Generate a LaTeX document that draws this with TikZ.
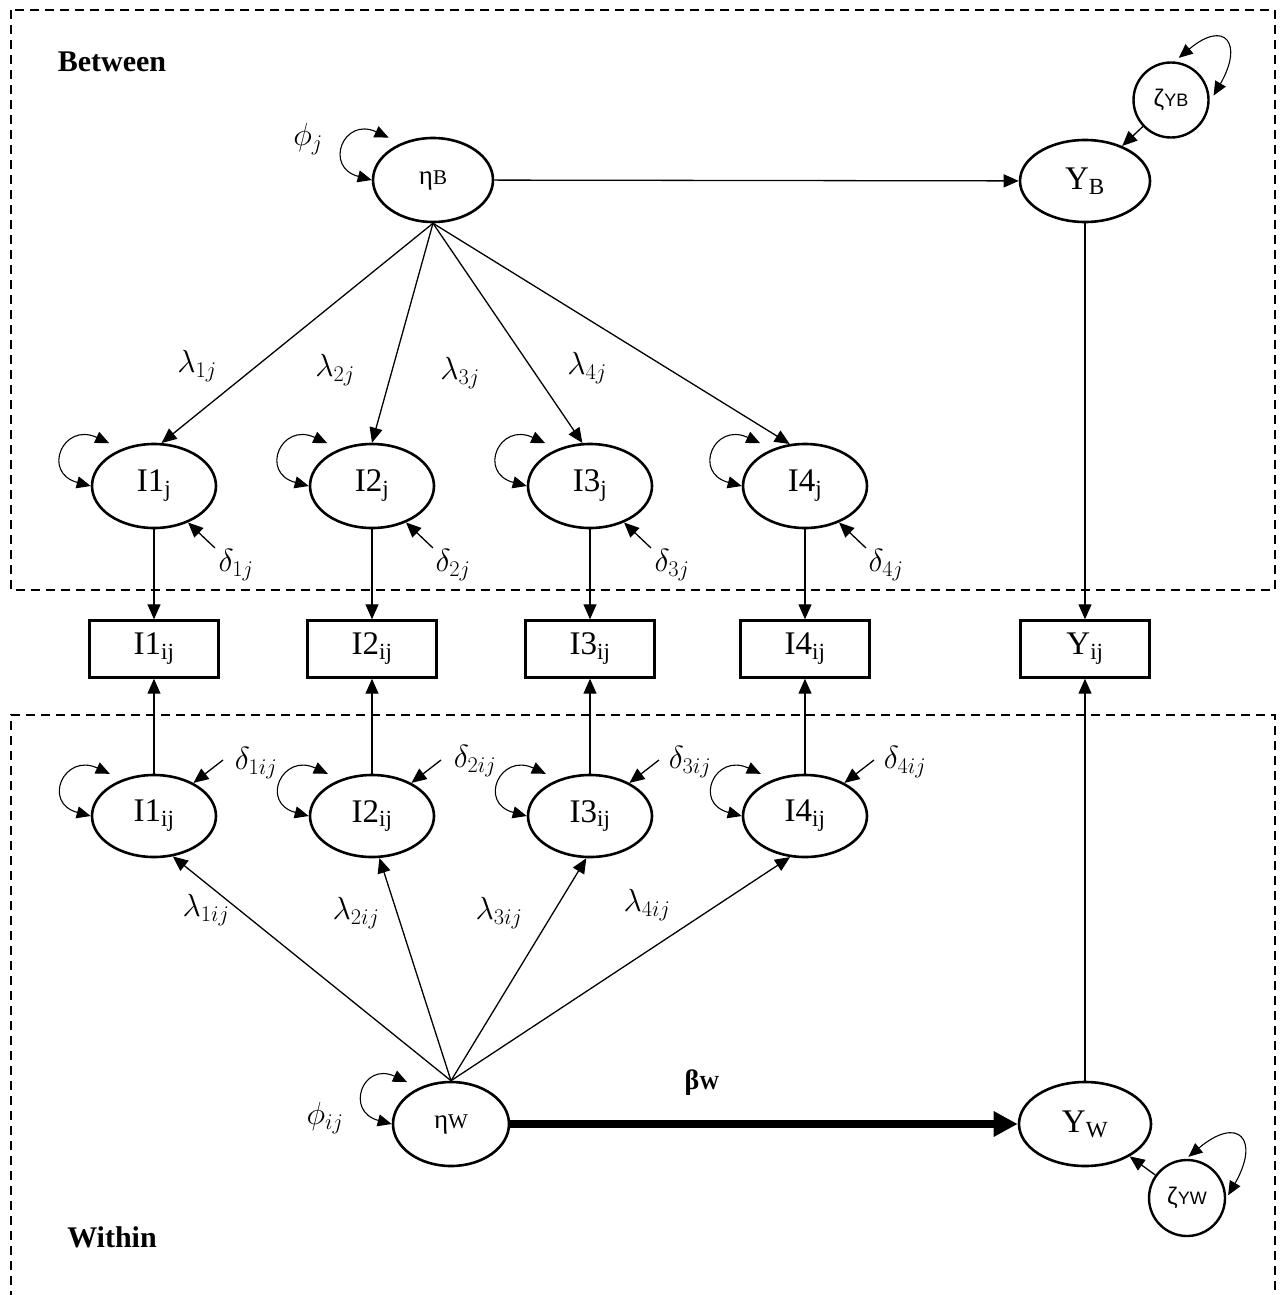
\RequirePackage{fix-cm}
\documentclass[tikz,border=0pt]{standalone}
\usepackage{fontspec}
\setmainfont{Liberation Serif}
\newfontfamily\zsans{Liberation Sans}
\usetikzlibrary{shapes.geometric,arrows.meta}
\newcommand\selfloop[2][]{\draw[both,#1] ([shift={(-9,7)}]#2.135) to[out=155,in=165,looseness=2.8] (#2.west);}
\begin{document}
\begin{tikzpicture}[x=1pt,y=1pt,
 lat/.style={ellipse,draw,line width=2.6pt,inner sep=0pt,minimum width=124pt,minimum height=84pt,font=\fontsize{33}{35}\selectfont},
 obs/.style={rectangle,draw,line width=2.4pt,inner sep=0pt,minimum width=129pt,minimum height=57pt,font=\fontsize{33}{35}\selectfont},
 res/.style={circle,draw,line width=2.4pt,inner sep=0pt,minimum size=75pt},
 conn/.style={line width=1.3pt,-{Triangle[length=15pt,width=13pt]}},
 both/.style={line width=1.1pt,{Triangle[length=14pt,width=12pt]}-{Triangle[length=14pt,width=12pt]}},
 strong/.style={line width=8pt,-{Triangle[length=24pt,width=24pt]}},
 region/.style={line width=2.2pt,dash pattern=on 9pt off 6pt},
 mlab/.style={font=\fontsize{32}{34}\selectfont,inner sep=1pt},
 title/.style={font=\fontsize{30}{32}\selectfont\bfseries}
]
\useasboundingbox (0,0) rectangle (1280,-1295);

% regions
\draw[region] (11,-10) rectangle (1275,-590);
\draw[region] (11,-1300) -- (11,-715) -- (1275,-715) -- (1275,-1300);
\node[title] (tB) at (112,-62) {Between};
\node[title] (tW) at (112,-1237) {Within};

% between level
\node[lat,minimum width=120pt] (etaB) at (433,-180) {\fontsize{27}{29}\selectfont η{\fontsize{21}{23}\selectfont B}};
\node[lat,minimum width=130pt,minimum height=82pt] (YB) at (1085,-181) {Y\textsubscript{B}};
\node[res] (zYB) at (1171,-100) {\zsans\fontsize{24}{26}\selectfont ζ{\fontsize{18}{20}\selectfont YB}};
\node[obs] (OY) at (1085,-649) {Y\textsubscript{ij}};

% within level
\node[lat,minimum width=116pt] (etaW) at (451,-1124) {\fontsize{27}{29}\selectfont η{\fontsize{21}{23}\selectfont W}};
\node[lat,minimum width=132pt] (YW) at (1085,-1124) {Y\textsubscript{W}};
\node[res,minimum size=76pt] (zYW) at (1187,-1198) {\zsans\fontsize{24}{26}\selectfont ζ{\fontsize{18}{20}\selectfont YW}};

\foreach \i/\x in {1/154,2/372,3/590,4/805} {
  \node[lat] (Ib\i) at (\x,-486) {I\i\textsubscript{j}};
  \node[obs] (O\i) at (\x,-649) {I\i\textsubscript{ij}};
  \node[lat,minimum height=82pt] (Iw\i) at (\x,-816) {I\i\textsubscript{ij}};
  \coordinate (db\i) at (\x+61,-548);
  \coordinate (dw\i) at (\x+69,-760);
}

% labels
\node[mlab] (phB) at (308,-139) {$\phi_j$};
\node[mlab] (phW) at (325,-1118) {$\phi_{ij}$};
\node[mlab] (lb1) at (197,-366) {$\lambda_{1j}$};
\node[mlab] (lb2) at (335,-370) {$\lambda_{2j}$};
\node[mlab] (lb3) at (460,-373) {$\lambda_{3j}$};
\node[mlab] (lb4) at (587,-368) {$\lambda_{4j}$};
\node[mlab] (lw1) at (206,-910) {$\lambda_{1ij}$};
\node[mlab] (lw2) at (356,-913) {$\lambda_{2ij}$};
\node[mlab] (lw3) at (499,-913) {$\lambda_{3ij}$};
\node[mlab] (lw4) at (647,-905) {$\lambda_{4ij}$};
\node[mlab] (dlb1) at (236,-565) {$\delta_{1j}$};
\node[mlab] (dlb2) at (453,-565) {$\delta_{2j}$};
\node[mlab] (dlb3) at (672,-565) {$\delta_{3j}$};
\node[mlab] (dlb4) at (886,-565) {$\delta_{4j}$};
\node[mlab] (dlw1) at (256,-763) {$\delta_{1ij}$};
\node[mlab] (dlw2) at (475,-761) {$\delta_{2ij}$};
\node[mlab] (dlw3) at (690,-762) {$\delta_{3ij}$};
\node[mlab] (dlw4) at (905,-762) {$\delta_{4ij}$};
\node[font=\fontsize{28}{30}\selectfont\bfseries] (bW) at (702,-1083) {β{\fontsize{20}{22}\selectfont W}};

% connectors between
\draw[conn] (etaB) -- (YB);
\draw[conn] (zYB) -- (YB);
\draw[conn] (YB) -- (OY);
\draw[conn] (etaB.south) -- (Ib1.80);
\draw[conn] (etaB.south) -- (Ib2.90);
\draw[conn] (etaB.south) -- (Ib3.100);
\draw[conn] (etaB.south) -- (Ib4.110);
\foreach \i in {1,2,3,4} {
  \draw[conn] (Ib\i) -- (O\i);
  \draw[conn] (Iw\i) -- (O\i);
  \draw[conn] (db\i) -- (Ib\i.-47);
  \draw[conn] (dw\i) -- (Iw\i.40);
  \selfloop{Ib\i}
  \selfloop{Iw\i}
}
\selfloop{etaB}
\selfloop{etaW}
\draw[both] ([shift={(1,4)}]zYB.80) to[out=40,in=60,looseness=3] ([shift={(4,1)}]zYB.5);
\draw[both] ([shift={(0,2)}]zYW.88) to[out=40,in=60,looseness=3] ([shift={(2,0)}]zYW.4);

% connectors within
\draw[conn] (etaW.north) -- (Iw1.-65);
\draw[conn] (etaW.north) -- (Iw2.-80);
\draw[conn] (etaW.north) -- (Iw3.-95);
\draw[conn] (etaW.north) -- (Iw4.-110);
\draw[strong] (etaW) -- (YW);
\draw[conn] (zYW) -- (YW);
\draw[conn] (YW) -- (OY);
\end{tikzpicture}
\end{document}
